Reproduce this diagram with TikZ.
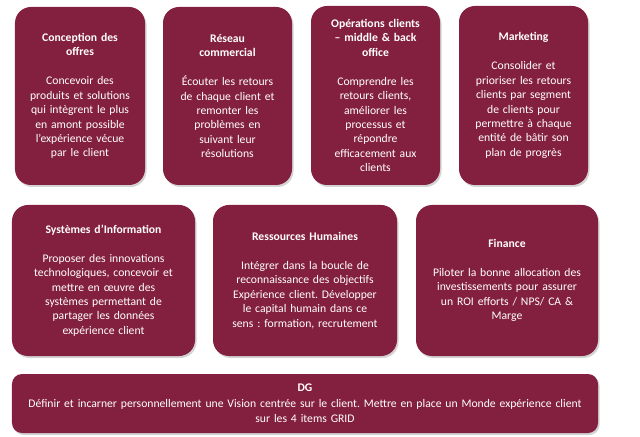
\documentclass[tikz,border=0pt]{standalone}
\usepackage{fontspec}
\setmainfont{Carlito}
\usetikzlibrary{positioning, shadows}
\definecolor{grid}{HTML}{84203F}
\frenchspacing

\begin{document}
\begin{tikzpicture}[x=1bp, y=-1bp,
    dept/.style={fill=grid, rounded corners=16bp, inner sep=0pt,
        drop shadow={opacity=0.35, shadow xshift=1.5bp, shadow yshift=-2bp}},
    txt/.style={text=white, align=center, font=\fontsize{11.7}{14.5}\selectfont}]
    \useasboundingbox (0,0) rectangle (640,437);
    % top row
    \node[dept, minimum width=130bp, minimum height=178bp] (offres) at (80,96) {};
    \node[dept, minimum width=129bp, minimum height=178bp] (reseau) at (227.5,96) {};
    \node[dept, minimum width=129bp, minimum height=179bp] (ops) at (375.5,95.5) {};
    \node[dept, minimum width=129bp, minimum height=179bp] (mkt) at (523.5,95.5) {};
    % second row
    \node[dept, minimum width=183bp, minimum height=151bp] (si) at (103.5,280.5) {};
    \node[dept, minimum width=184bp, minimum height=151bp] (rh) at (305,280.5) {};
    \node[dept, minimum width=182bp, minimum height=151bp] (fin) at (507,280.5) {};
    % bottom
    \node[dept, rounded corners=10bp, minimum width=586bp, minimum height=59bp] (dg) at (305,403.5) {};

    \node[txt, text width=126bp] at (offres) {\textbf{Conception des\\offres}\\[14.5bp]
        Concevoir des\\produits et solutions\\qui intègrent le plus\\en amont possible\\l’expérience vécue\\par le client};
    \node[txt, text width=126bp] at (reseau) {\textbf{Réseau\\commercial}\\[14.5bp]
        Écouter les retours\\de chaque client et\\remonter les\\problèmes en\\suivant leur\\résolutions};
    \node[txt, text width=126bp] at (ops) {\textbf{Opérations clients\\– middle \& back\\office}\\[14.5bp]
        Comprendre les\\retours clients,\\améliorer les\\processus et\\répondre\\efficacement aux\\clients};
    \node[txt, text width=126bp] at (mkt) {\textbf{Marketing}\\[14.5bp]
        Consolider et\\prioriser les retours\\clients par segment\\de clients pour\\permettre à chaque\\entité de bâtir son\\plan de progrès};
    \node[txt, text width=176bp] at (si) {\textbf{Systèmes d’Information}\\[14.5bp]
        Proposer des innovations\\technologiques, concevoir et\\mettre en œuvre des\\systèmes permettant de\\partager les données\\expérience client};
    \node[txt, text width=176bp] at (rh) {\textbf{Ressources Humaines}\\[14.5bp]
        Intégrer dans la boucle de\\reconnaissance des objectifs\\Expérience client. Développer\\le capital humain dans ce\\sens : formation, recrutement};
    \node[txt, text width=176bp] at (fin) {\textbf{Finance}\\[14.5bp]
        Piloter la bonne allocation des\\investissements pour assurer\\un ROI efforts / NPS/ CA \&\\Marge};
    \node[txt, text width=580bp, font=\fontsize{11.7}{15.5}\selectfont] at (dg) {\textbf{DG}\\
        Définir et incarner personnellement une Vision centrée sur le client. Mettre en place un Monde expérience client\\sur les 4 items GRID};
\end{tikzpicture}
\end{document}
